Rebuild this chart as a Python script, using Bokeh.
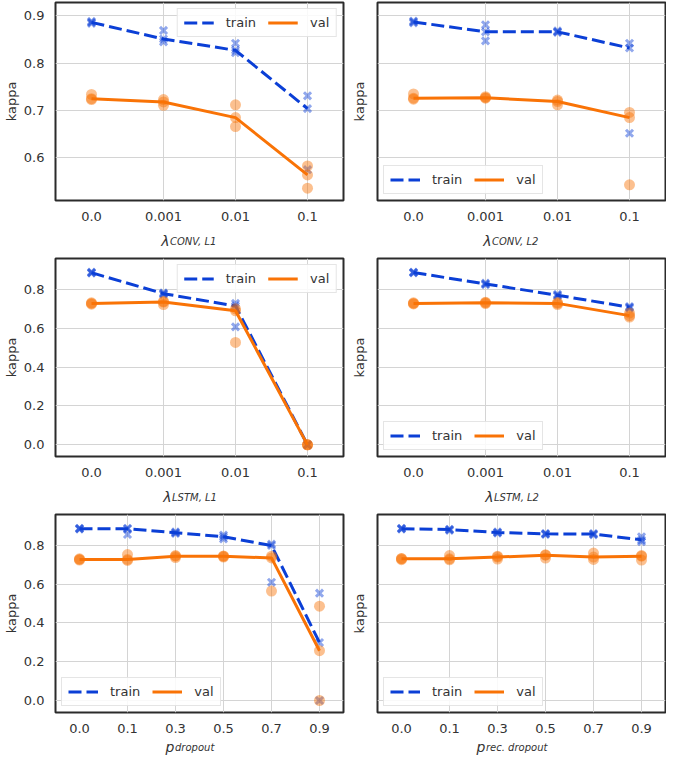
from bokeh.plotting import figure
from bokeh.layouts import column, row
from bokeh.models import (FactorRange, Range1d, FixedTicker,
                          PrintfTickFormatter, CustomJSTickFormatter)
from bokeh.core.properties import value
from bokeh.embed import file_html
from bokeh.resources import INLINE

# ---------------- data ----------------
lam_cats = ["0.0", "0.001", "0.01", "0.1"]
drop_cats = ["0.0", "0.1", "0.3", "0.5", "0.7", "0.9"]

# lambda CONV L1
conv_l1_train_pts = [[0.888, 0.884, 0.886], [0.869, 0.851, 0.845], [0.842, 0.827, 0.822], [0.731, 0.704, 0.575]]
conv_l1_train = [0.886, 0.851, 0.827, 0.704]
conv_l1_val_pts = [[0.734, 0.725, 0.723], [0.723, 0.718, 0.711], [0.712, 0.685, 0.666], [0.583, 0.564, 0.536]]
conv_l1_val = [0.725, 0.718, 0.685, 0.564]

# lambda CONV L2
conv_l2_train_pts = [[0.889, 0.885, 0.887], [0.881, 0.866, 0.847], [0.868, 0.866, 0.865], [0.842, 0.832, 0.652]]
conv_l2_train = [0.887, 0.866, 0.866, 0.832]
conv_l2_val_pts = [[0.735, 0.726, 0.724], [0.729, 0.727, 0.726], [0.722, 0.719, 0.712], [0.696, 0.685, 0.543]]
conv_l2_val = [0.726, 0.727, 0.719, 0.685]

# lambda LSTM L1
lstm_l1_train_pts = [[0.889, 0.886, 0.884], [0.782, 0.778, 0.774], [0.728, 0.715, 0.607], [0.0, 0.0, 0.0]]
lstm_l1_train = [0.886, 0.778, 0.715, 0.0]
lstm_l1_val_pts = [[0.731, 0.728, 0.724], [0.738, 0.735, 0.722], [0.700, 0.690, 0.527], [0.0, 0.0, 0.0]]
lstm_l1_val = [0.728, 0.735, 0.690, 0.0]

# lambda LSTM L2
lstm_l2_train_pts = [[0.889, 0.887, 0.885], [0.832, 0.828, 0.824], [0.775, 0.770, 0.766], [0.712, 0.708, 0.703]]
lstm_l2_train = [0.887, 0.828, 0.770, 0.708]
lstm_l2_val_pts = [[0.731, 0.728, 0.725], [0.734, 0.731, 0.727], [0.732, 0.728, 0.722], [0.678, 0.665, 0.658]]
lstm_l2_val = [0.728, 0.731, 0.728, 0.665]

# p dropout
drop_train_pts = [[0.889, 0.887, 0.885], [0.889, 0.886, 0.857], [0.870, 0.866, 0.862],
                  [0.854, 0.845, 0.834], [0.807, 0.800, 0.610], [0.554, 0.299, 0.0]]
drop_train = [0.887, 0.886, 0.866, 0.845, 0.800, 0.299]
drop_val_pts = [[0.731, 0.728, 0.725], [0.753, 0.728, 0.723], [0.748, 0.745, 0.738],
                [0.746, 0.744, 0.740], [0.745, 0.736, 0.565], [0.487, 0.257, 0.0]]
drop_val = [0.728, 0.728, 0.745, 0.744, 0.736, 0.257]

# p rec. dropout
rdrop_train_pts = [[0.889, 0.887, 0.885], [0.884, 0.882, 0.878], [0.870, 0.867, 0.864],
                   [0.862, 0.860, 0.857], [0.862, 0.859, 0.855], [0.845, 0.829, 0.820]]
rdrop_train = [0.887, 0.882, 0.867, 0.860, 0.859, 0.829]
rdrop_val_pts = [[0.733, 0.731, 0.727], [0.748, 0.731, 0.726], [0.745, 0.740, 0.730],
                 [0.752, 0.750, 0.735], [0.761, 0.740, 0.728], [0.748, 0.745, 0.725]]
rdrop_val = [0.731, 0.731, 0.740, 0.750, 0.740, 0.745]

row1_yticks = [0.6, 0.7, 0.8, 0.9]
row23_yticks = [0.0, 0.2, 0.4, 0.6, 0.8]

# ---------------- style ----------------
BLUE = "#0b3fd6"
ORANGE = "#f97306"
FONT = "DejaVu Sans"
TXT = "#333333"
FW, FH = 288, 198
LB_LEFT, LB_RIGHT = 45, 32
RB_LEFT, RB_RIGHT = 2, 1


def flatten(cats, pts):
    xs, ys = [], []
    for c, vals in zip(cats, pts):
        for v in vals:
            xs.append(c)
            ys.append(v)
    return xs, ys


def panel(cats, tr_pts, tr_line, va_pts, va_line, yr, yticks, left, legend_loc):
    p = figure(x_range=FactorRange(*cats), y_range=Range1d(*yr),
               frame_width=FW, frame_height=FH,
               min_border_left=LB_LEFT if left else LB_RIGHT,
               min_border_right=RB_LEFT if left else RB_RIGHT,
               min_border_top=2, min_border_bottom=22,
               output_backend="svg", toolbar_location=None)
    p.background_fill_color = "white"
    p.border_fill_color = "white"
    p.outline_line_color = "#2b2b2b"
    p.outline_line_width = 2

    xs, ys = flatten(cats, tr_pts)
    p.scatter(xs, ys, marker="x", size=10, line_color=BLUE, line_width=3, line_alpha=0.45)
    p.line(cats, tr_line, line_color=BLUE, line_width=3, line_dash="13 5", legend_label="train")
    xs, ys = flatten(cats, va_pts)
    p.scatter(xs, ys, marker="circle", size=11, fill_color=ORANGE, fill_alpha=0.45, line_color=None)
    p.line(cats, va_line, line_color=ORANGE, line_width=3, legend_label="val")

    # axes
    for ax in (p.xaxis[0], p.yaxis[0]):
        ax.major_tick_line_color = None
        ax.minor_tick_line_color = None
        ax.axis_line_color = None
        ax.major_label_text_font = FONT
        ax.major_label_text_font_size = "13px"
        ax.major_label_text_color = TXT
    p.xaxis.major_label_standoff = 5
    p.yaxis.ticker = FixedTicker(ticks=yticks)
    p.yaxis.axis_label = "kappa"
    p.yaxis.axis_label_text_font = FONT
    p.yaxis.axis_label_text_font_size = "13px"
    p.yaxis.axis_label_text_font_style = "normal"
    p.yaxis.axis_label_text_color = TXT
    if left:
        p.yaxis.formatter = PrintfTickFormatter(format="%.1f")
        p.yaxis.major_label_standoff = 5
        p.yaxis.axis_label_standoff = 2
    else:
        p.yaxis.formatter = CustomJSTickFormatter(code="return ''")
        p.yaxis.major_label_standoff = 0
        p.yaxis.axis_label_standoff = 5

    p.xgrid.grid_line_color = "#d4d4d4"
    p.ygrid.grid_line_color = "#d4d4d4"

    # legend
    lg = p.legend[0]
    lg.location = legend_loc
    lg.orientation = "horizontal"
    lg.label_text_font = FONT
    lg.label_text_font_size = "13px"
    lg.label_text_color = TXT
    lg.glyph_width = 30
    lg.glyph_height = 13
    lg.label_height = 13
    lg.label_standoff = 12
    lg.spacing = 12
    lg.padding = 6
    lg.margin = 6
    lg.border_line_color = "#cccccc"
    lg.border_line_width = 1
    lg.background_fill_alpha = 0.85
    return p


def label_strip(left, height, sym, sub, sym_off, base_y):
    """Strip below a panel holding its x label: symbol plus italic subscript."""
    s = figure(x_range=Range1d(0, FW), y_range=Range1d(height, 0),
               frame_width=FW, frame_height=height,
               min_border_left=LB_LEFT if left else LB_RIGHT,
               min_border_right=RB_LEFT if left else RB_RIGHT,
               min_border_top=0, min_border_bottom=0,
               x_axis_location=None, y_axis_location=None,
               output_backend="svg", toolbar_location=None)
    s.grid.visible = False
    s.outline_line_color = None
    s.background_fill_color = "white"
    s.border_fill_color = "white"
    x0 = FW / 2 + sym_off
    s.text(x=[x0], y=[base_y], text=[sym], text_font=value(FONT),
           text_font_size=value("14px"), text_font_style=value("italic"),
           text_color=TXT, text_align=value("right"), text_baseline=value("alphabetic"))
    s.text(x=[x0 + 0.5], y=[base_y + 1], text=[sub], text_font=value(FONT),
           text_font_size=value("10px"), text_font_style=value("italic"),
           text_color=TXT, text_align=value("left"), text_baseline=value("alphabetic"))
    return s


r1 = (0.510, 0.928)
r2 = (-0.060, 0.959)
r3 = (-0.062, 0.960)

p1 = panel(lam_cats, conv_l1_train_pts, conv_l1_train, conv_l1_val_pts, conv_l1_val,
           r1, row1_yticks, True, "top_right")
p2 = panel(lam_cats, conv_l2_train_pts, conv_l2_train, conv_l2_val_pts, conv_l2_val,
           r1, row1_yticks, False, "bottom_left")
p3 = panel(lam_cats, lstm_l1_train_pts, lstm_l1_train, lstm_l1_val_pts, lstm_l1_val,
           r2, row23_yticks, True, "top_right")
p4 = panel(lam_cats, lstm_l2_train_pts, lstm_l2_train, lstm_l2_val_pts, lstm_l2_val,
           r2, row23_yticks, False, "bottom_left")
p5 = panel(drop_cats, drop_train_pts, drop_train, drop_val_pts, drop_val,
           r3, row23_yticks, True, "bottom_left")
p6 = panel(drop_cats, rdrop_train_pts, rdrop_train, rdrop_val_pts, rdrop_val,
           r3, row23_yticks, False, "bottom_left")

s1 = label_strip(True, 33, "λ", "CONV, L1", -20, 17)
s2 = label_strip(False, 33, "λ", "CONV, L2", -20, 17)
s3 = label_strip(True, 33, "λ", "LSTM, L1", -18, 17)
s4 = label_strip(False, 33, "λ", "LSTM, L2", -18, 17)
s5 = label_strip(True, 20, "p", "dropout", -15, 11)
s6 = label_strip(False, 20, "p", "rec. dropout", -26, 11)

layout = column(row(p1, p2), row(s1, s2),
                row(p3, p4), row(s3, s4),
                row(p5, p6), row(s5, s6))

open("out.html", "w").write(file_html(layout, INLINE))
